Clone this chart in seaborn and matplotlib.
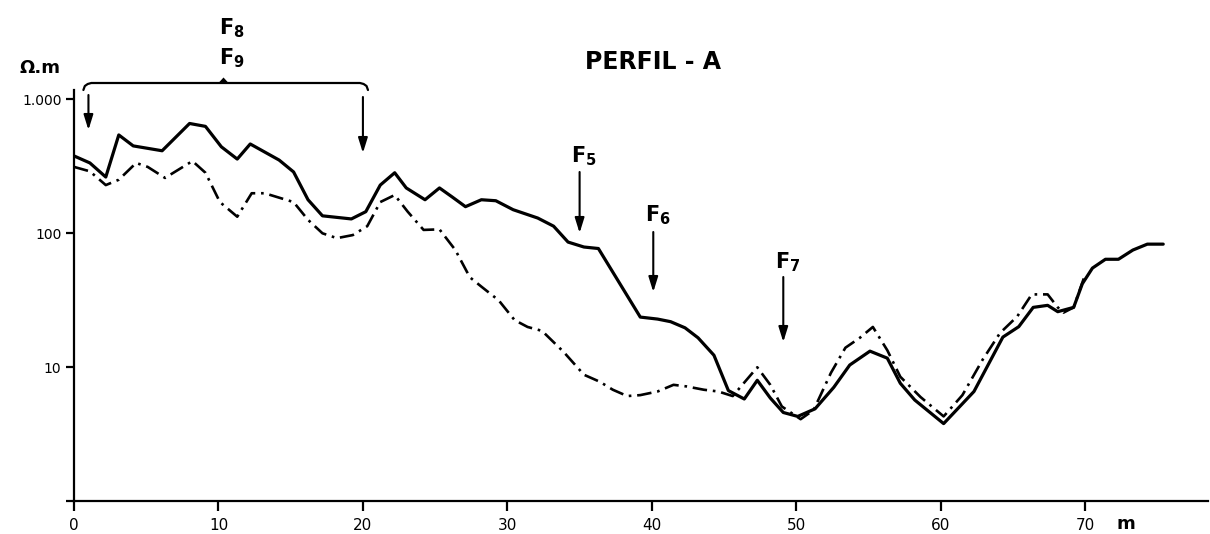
import numpy as np
import pandas as pd
import matplotlib
matplotlib.use("Agg")
import matplotlib.pyplot as plt
import seaborn as sns

# Apparent resistivity profile (ohm.m) along Perfil-A, two electrode spacings
x_solid = [0, 1.1, 2.2, 3.1, 4.1, 6.1, 8.0, 9.1, 10.2, 11.3, 12.2, 14.2, 15.2, 16.2,
           17.2, 19.2, 20.2, 21.2, 22.2, 23.0, 24.3, 25.3, 26.2, 27.1, 28.2, 29.2,
           30.4, 32.1, 33.2, 34.2, 35.3, 36.3, 39.2, 40.4, 41.3, 42.3, 43.2, 44.3,
           45.3, 46.4, 47.3, 48.2, 49.1, 50.1, 51.3, 52.6, 53.7, 55.1, 56.3, 57.2,
           58.2, 60.2, 62.3, 64.3, 65.4, 66.4, 67.4, 68.1, 69.2, 69.8, 70.5, 71.4,
           72.3, 73.3, 74.3, 75.4]
rho_solid = [378, 335, 263, 542, 449, 413, 660, 628, 442, 358, 464, 352, 287, 178,
             135, 128, 145, 229, 283, 218, 178, 218, 186, 158, 178, 175,
             150, 130, 113, 86, 79, 77, 23.7, 22.9, 21.9, 19.7, 16.6, 12.3,
             6.7, 5.8, 8.0, 5.9, 4.6, 4.3, 4.9, 7.1, 10.4, 13.2, 11.7, 7.6,
             5.7, 3.8, 6.6, 16.8, 20.1, 28, 29, 26, 28, 42, 55, 64,
             64, 75, 83, 83]

x_dash = [0, 1.1, 2.2, 3.1, 4.3, 5.1, 6.3, 8.2, 9.1, 10.1, 11.3, 12.3, 13.2, 15.2,
          16.2, 17.2, 18.2, 19.3, 20.3, 21.2, 22.2, 23.1, 24.2, 25.3, 26.4, 27.4,
          28.2, 29.4, 30.5, 31.4, 32.4, 33.9, 35.3, 36.4, 37.3, 38.3, 39.2, 40.4,
          41.5, 42.4, 43.6, 44.6, 45.6, 47.3, 48.2, 49.0, 50.3, 51.2, 52.4, 53.4,
          54.4, 55.3, 56.3, 57.2, 58.6, 60.2, 61.5, 62.9, 64.1, 65.3, 66.3, 67.4,
          68.1, 68.5, 69.2, 69.9]
rho_dash = [313, 290, 229, 251, 335, 313, 259, 346, 283, 171, 133, 199, 199, 171,
            126, 100, 92, 97, 113, 171, 193, 145, 106, 107, 75, 47,
            40, 31.6, 22.5, 20, 18.7, 13, 8.8, 7.8, 6.8, 6.1, 6.2, 6.6,
            7.4, 7.2, 6.8, 6.6, 6.1, 10, 7.4, 5.1, 4.1, 4.8, 9.1, 14,
            16.6, 20, 13.4, 8.5, 6.0, 4.3, 6.2, 11.4, 18, 24, 35, 35,
            28, 25.6, 28, 46]

x_ticks = [0, 10, 20, 30, 40, 50, 60, 70]
y_ticks = [1, 10, 100, 1000]
y_tick_labels = ["", "10", "100", "1.000"]

# Boreholes marked along the profile
bore_labels = [r"$\mathbf{F_5}$", r"$\mathbf{F_6}$", r"$\mathbf{F_7}$"]
bore_x = [35.0, 40.1, 49.1]

sns.set_style("ticks", {"axes.edgecolor": "black", "text.color": "black",
                        "xtick.color": "black", "ytick.color": "black"})
plt.rcParams["font.family"] = ["DejaVu Sans"]
plt.rcParams["mathtext.fontset"] = "dejavusans"

W, H = 1210, 534
fig = plt.figure(figsize=(W / 100, H / 100), dpi=100)
ax = fig.add_axes([74 / W, 1 - 501.3 / H, (1208 - 74) / W, (501.3 - 90) / H])

ax.set_yscale("log")
ax.set_xlim(0, 78.5)
ax.set_ylim(1, 10 ** (3 + 9.3 / 134))

df_s = pd.DataFrame({"x": x_solid, "rho": rho_solid})
df_d = pd.DataFrame({"x": x_dash, "rho": rho_dash})
sns.lineplot(data=df_s, x="x", y="rho", ax=ax, color="black", linewidth=2.3,
             sort=False, estimator=None)
sns.lineplot(data=df_d, x="x", y="rho", ax=ax, color="black", linewidth=1.9,
             sort=False, estimator=None, linestyle=(0, (5.5, 2.2, 1, 2.2)))

# axes styling
for s in ["top", "right"]:
    ax.spines[s].set_visible(False)
for s in ["left", "bottom"]:
    ax.spines[s].set_linewidth(1.6)
    ax.spines[s].set_color("black")
ax.set_xticks(x_ticks)
ax.set_xticklabels([str(t) for t in x_ticks])
ax.yaxis.set_major_locator(matplotlib.ticker.FixedLocator(y_ticks))
ax.yaxis.set_minor_locator(matplotlib.ticker.NullLocator())
ax.set_yticklabels(y_tick_labels)
ax.tick_params(axis="x", direction="out", length=7, width=1.6, labelsize=11, pad=5,
               colors="black")
ax.tick_params(axis="y", direction="out", length=6, width=1.6, labelsize=10, pad=3,
               colors="black")
ax.set_xlabel("")
ax.set_ylabel("")


def py2y(py):
    """Pixel row of the figure to resistivity value on the log axis."""
    return 10 ** (3 - (py - 99.3) / 134)


arrow_kw = dict(arrowstyle="-|>,head_length=0.9,head_width=0.28", color="black",
                lw=1.5, shrinkA=0, shrinkB=0)

# borehole arrows
tops = [172, 232, 277]
tips = [233, 292, 342]
lab_py = [156, 215, 262]
for lab, bx, t0, t1, ly in zip(bore_labels, bore_x, tops, tips, lab_py):
    ax.annotate("", xy=(bx, py2y(t1)), xytext=(bx, py2y(t0)), arrowprops=arrow_kw,
                annotation_clip=False)
    ax.text(bx + 0.3, py2y(ly), lab, ha="center", va="center", fontsize=15,
            color="black")

# arrows for the F8/F9 interval
ax.annotate("", xy=(1.0, py2y(130)), xytext=(1.0, py2y(95)), arrowprops=arrow_kw,
            annotation_clip=False)
ax.annotate("", xy=(20.0, py2y(153)), xytext=(20.0, py2y(97)), arrowprops=arrow_kw,
            annotation_clip=False)

# bracket over the interval
bx_pts = [0.65, 0.75, 0.95, 1.2, 19.8, 20.05, 20.25, 20.35]
by_pts = [py2y(90), py2y(86), py2y(84), py2y(83), py2y(83), py2y(84), py2y(86), py2y(90)]
ax.plot(bx_pts, by_pts, color="black", lw=1.6, clip_on=False)
ax.fill([10.0, 10.35, 10.7], [py2y(83), py2y(77.5), py2y(83)], color="black",
        clip_on=False, lw=0)
ax.text(10.9, py2y(28), r"$\mathbf{F_8}$", ha="center", va="center", fontsize=15,
        color="black")
ax.text(10.9, py2y(58), r"$\mathbf{F_9}$", ha="center", va="center", fontsize=15,
        color="black")

# titles and units
fig.text(653 / W, 1 - 62 / H, "PERFIL - A", ha="center", va="center", fontsize=17,
         fontweight="bold", color="black")
fig.text(40 / W, 1 - 68 / H, "Ω.m", ha="center", va="center", fontsize=13,
         fontweight="bold", color="black")
fig.text(1126 / W, 1 - 524 / H, "m", ha="center", va="center", fontsize=13,
         fontweight="bold", color="black")

fig.savefig("out.png", dpi=100, facecolor="white")
